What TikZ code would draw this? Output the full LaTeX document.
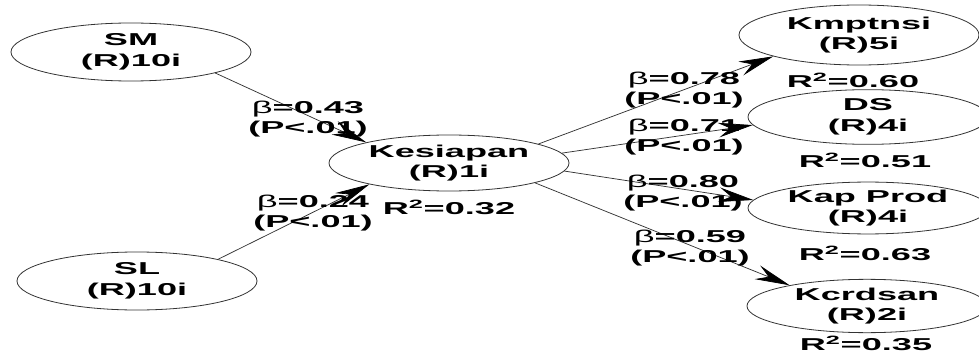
\documentclass[tikz,border=0pt]{standalone}
\usepackage{fontspec}
\setmainfont{Liberation Sans}[FakeStretch=2.1]
\usetikzlibrary{shapes.geometric,arrows.meta}
\begin{document}
\begin{tikzpicture}[x=0.75pt,y=-0.75pt,
  font=\fontsize{12.9}{15.5}\selectfont\bfseries,
  latent/.style={ellipse, draw=black!80, line width=0.6pt, align=center,
    minimum width=180pt, minimum height=43.5pt, inner sep=0pt},
  path/.style={draw=black!80, line width=0.55pt,
    -{Stealth[length=26pt,width=11pt,inset=9pt,black]}},
  coef/.style={align=center, inner sep=0pt},
  rsq/.style={inner sep=0pt}]
  \path[use as bounding box, fill=white] (0,0) rectangle (979,353);

  % latent variables
  \node[latent] (sm) at (131,52) {SM\\(R)10i};
  \node[latent] (sl) at (137,281) {SL\\(R)10i};
  \node[latent, minimum height=42pt] (kes) at (449,163) {Kesiapan\\(R)1i};
  \node[latent, minimum height=45pt] (kmp) at (859,35) {Kmptnsi\\(R)5i};
  \node[latent, minimum height=41pt] (ds) at (868,117) {DS\\(R)4i};
  \node[latent, minimum height=37.5pt] (kap) at (868,208) {Kap Prod\\(R)4i};
  \node[latent, minimum height=40pt] (kcr) at (867,306) {Kcrdsan\\(R)2i};

  % structural paths
  \draw[path] (sm.-14) -- (kes.166);
  \draw[path] (sl.15) -- (kes.-165);
  \draw[path] (kes.12) -- (kmp.-166);
  \draw[path] (kes.5) -- (ds.184);
  \draw[path] (kes.-4) -- (kap.176);
  \draw[path] (kes.-13) -- (kcr.165);

  % path coefficients
  \node[coef] (c1) at (308,119) {\textmd{β}=0.43\\(P<.01)};
  \node[coef] (c2) at (313,213) {\textmd{β}=0.24\\(P<.01)};
  \node[coef] (c3) at (684,90) {\textmd{β}=0.78\\(P<.01)};
  \node[coef] (c4) at (684,137) {\textmd{β}=0.71\\(P<.01)};
  \node[coef] (c5) at (683,193) {\textmd{β}=0.80\\(P<.01)};
  \node[coef] (c6) at (690,248) {\textmd{β}=0.59\\(P<.01)};

  % explained variance
  \node[rsq] (r1) at (449,207) {R\textsuperscript{2}=0.32};
  \node[rsq] (r2) at (853,80) {R\textsuperscript{2}=0.60};
  \node[rsq] (r3) at (865,160) {R\textsuperscript{2}=0.51};
  \node[rsq] (r4) at (865,253) {R\textsuperscript{2}=0.63};
  \node[rsq] (r5) at (866,343) {R\textsuperscript{2}=0.35};
\end{tikzpicture}
\end{document}
